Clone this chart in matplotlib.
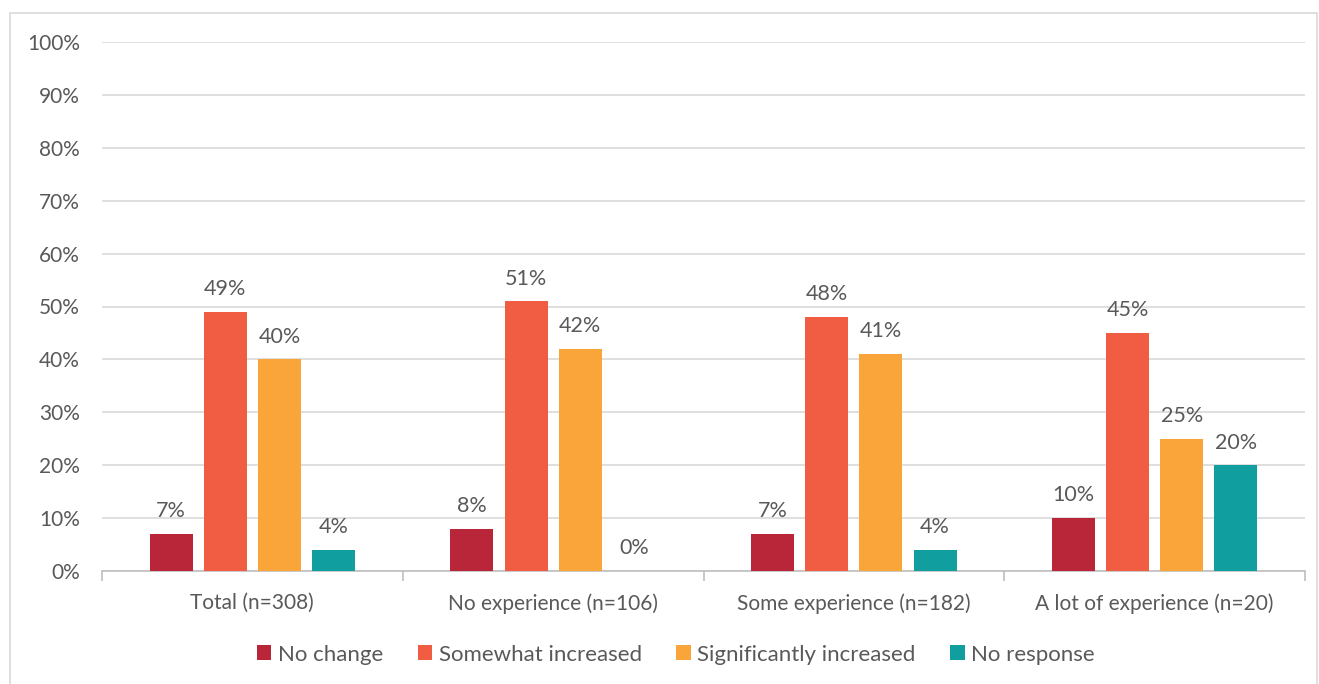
import numpy as np
import matplotlib.pyplot as plt
from matplotlib.patches import Rectangle

categories = ['Total (n=308)', 'No experience (n=106)',
              'Some experience (n=182)', 'A lot of experience (n=20)']
series = ['No change', 'Somewhat increased', 'Significantly increased', 'No response']
no_change = [7, 8, 7, 10]
somewhat = [49, 51, 48, 45]
significantly = [40, 42, 41, 25]
no_response = [4, 0, 4, 20]
colors = ['#BA2639', '#F15D43', '#F9A53A', '#109E9E']

plt.rcParams['font.family'] = ['Lato', 'DejaVu Sans']
grey = '#595959'

fig = plt.figure(figsize=(13.19, 6.84), dpi=100, facecolor='white')
fig.patches.append(Rectangle((10/1319, -0.01), 1307/1319, 1 - 13/684 + 0.01,
                             transform=fig.transFigure, fill=False,
                             edgecolor='#D9D9D9', linewidth=1.2))
ax = fig.add_axes([102/1319, 1 - 571/684, 1203/1319, 529/684])

x = np.arange(len(categories))
width = 0.143
pitch = 0.18
values = [no_change, somewhat, significantly, no_response]
for i, (vals, name, c) in enumerate(zip(values, series, colors)):
    pos = x + (i - 1.5) * pitch
    ax.bar(pos, vals, width=width, color=c, label=name, zorder=3)
    for xp, v in zip(pos, vals):
        ax.text(xp, v + 2.4, f'{v}%', ha='center', va='bottom',
                fontsize=15.5, color=grey)

ax.set_xlim(-0.5, len(categories) - 0.5)
ax.set_ylim(0, 100)
ax.set_yticks(np.arange(0, 101, 10))
ax.set_yticklabels([f'{t}%' for t in range(0, 101, 10)])
ax.yaxis.grid(True, color='#D9D9D9', linewidth=1.2, zorder=0)
ax.set_axisbelow(True)

ax.set_xticks(x)
ax.set_xticklabels(categories)
ax.set_xticks(np.arange(len(categories) + 1) - 0.5, minor=True)
ax.tick_params(axis='x', which='major', length=0, pad=16, labelsize=15, labelcolor=grey)
ax.tick_params(axis='x', which='minor', length=7, color='#BFBFBF', width=1.2)
ax.tick_params(axis='y', length=0, pad=16, labelsize=15, labelcolor=grey)

for s in ['top', 'right', 'left']:
    ax.spines[s].set_visible(False)
ax.spines['bottom'].set_color('#BFBFBF')
ax.spines['bottom'].set_linewidth(1.2)

ax.legend(loc='center', bbox_to_anchor=(0.477, -0.158), ncol=4, frameon=False,
          fontsize=16, labelcolor=grey, handlelength=0.65, handleheight=0.65,
          handletextpad=0.3, columnspacing=1.55)

plt.savefig('out.png', dpi=100, facecolor='white')
